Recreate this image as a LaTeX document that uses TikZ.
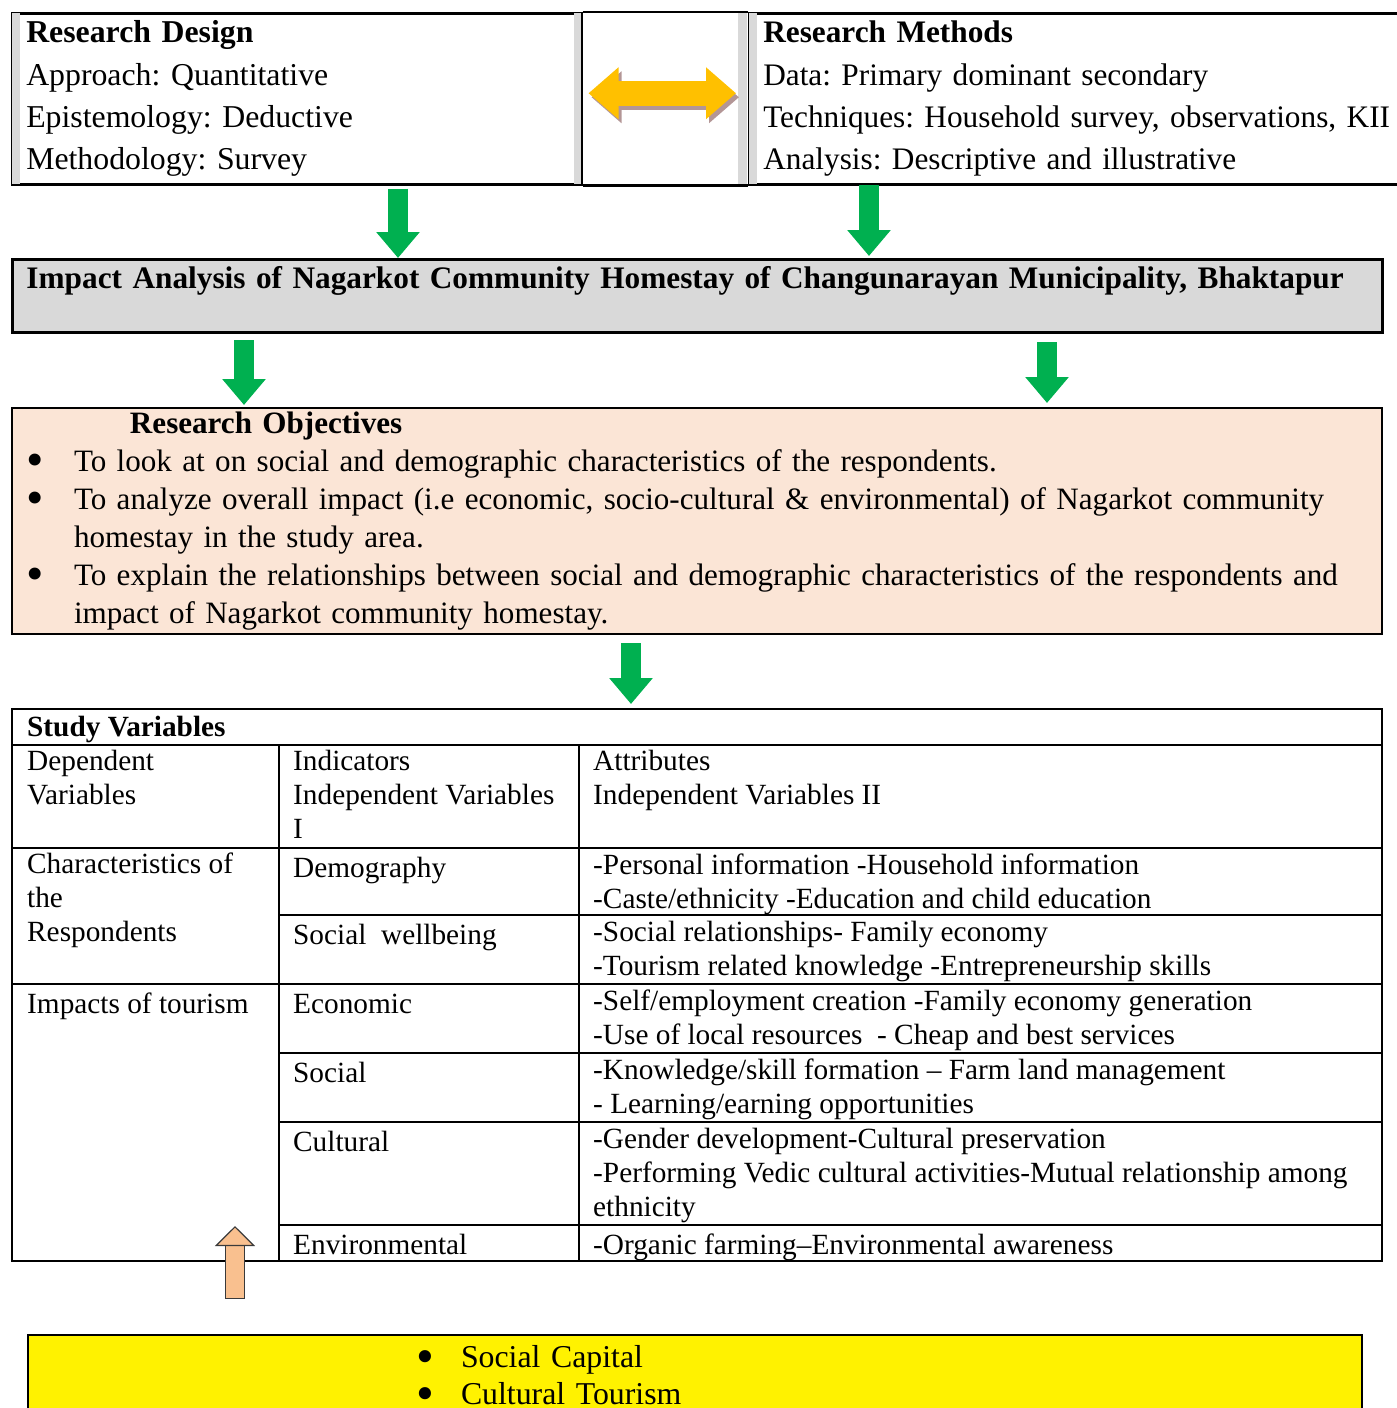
\documentclass[tikz,border=0pt]{standalone}
\usepackage{fontspec}
\setmainfont{Liberation Serif}
\usetikzlibrary{arrows.meta, positioning}
\frenchspacing

\definecolor{flowgreen}{HTML}{00B050}
\definecolor{gold}{HTML}{FFC000}
\definecolor{shade}{HTML}{B39696}
\definecolor{stripgray}{HTML}{D9D9D9}
\definecolor{titlegray}{HTML}{D9D9D9}
\definecolor{peach}{HTML}{FBE5D6}
\definecolor{liftfill}{HTML}{F9C08F}
\definecolor{liftline}{HTML}{3A3A3A}

\newcommand{\bigfont}{\fontsize{31.8}{42.3}\selectfont}
\newcommand{\methfont}{\fontsize{31.3}{42.3}\selectfont}
\newcommand{\titlefont}{\fontsize{31.3}{40}\selectfont\bfseries}
\newcommand{\objfont}{\fontsize{31.1}{38}\selectfont}
\newcommand{\tabfont}{\fontsize{29.3}{34}\selectfont}
\newcommand{\yelfont}{\fontsize{31.8}{37}\selectfont}
\newcommand{\blt}{\raisebox{-0.17em}{\scalebox{1.6}{•}}}

\begin{document}
\begin{tikzpicture}[x=1pt, y=-1pt,
  panel/.style={draw, line width=2.5pt, anchor=north west, inner xsep=14pt, align=left},
  flow/.style={draw=flowgreen, line width=20pt, -{Triangle[length=26pt, width=42pt]}},
  both/.style={line width=25pt, {Triangle[length=30pt, width=50pt]}-{Triangle[length=30pt, width=50pt]}},
  lift/.style={draw=liftline, line width=1.2pt, double=liftfill, double distance=18pt, line cap=rect,
    -{Triangle[length=20pt, width=40pt, fill=liftfill, line width=1.2pt]}},
  rule/.style={line width=2pt},
  cell/.style={anchor=north west, inner sep=0pt, align=left, font=\tabfont, execute at begin node=\strut}]
  \useasboundingbox (0,0) rectangle (1397,1408);
  \clip (0,0) rectangle (1397,1408);

  % top row: design <-> methods
  \node[panel, minimum width=569pt, minimum height=171pt, text width=541pt, font=\bigfont] (design) at (11,12)
    {\textbf{Research Design}\\Approach: Quantitative\\Epistemology: Deductive\\Methodology: Survey};
  \node[panel, minimum height=171pt, text width=720pt, font=\methfont] (methods) at (748,12)
    {\textbf{Research Methods}\\Data: Primary dominant secondary\\Techniques: Household survey, observations, KII\\Analysis: Descriptive and illustrative};
  \draw[line width=2.5pt] (design.north east) -- (methods.north west);
  \draw[line width=2.5pt] (design.south east) -- (methods.south west);
  \fill[stripgray] ([shift={(1.25pt,-1.25pt)}]design.north west) rectangle ([shift={(9pt,1.25pt)}]design.south west);
  \fill[stripgray] ([shift={(-9pt,-1.25pt)}]design.north east) rectangle ([shift={(-1.25pt,1.25pt)}]design.south east);
  \fill[stripgray] ([shift={(-10pt,-1.25pt)}]methods.north west) rectangle ([shift={(-1.25pt,1.25pt)}]methods.south west);
  \fill[stripgray] ([shift={(1.25pt,-1.25pt)}]methods.north west) rectangle ([shift={(9pt,1.25pt)}]methods.south west);
  \draw[both, draw=shade] ([shift={(9pt,1.5pt)}]design.east) -- ([shift={(-9pt,1.5pt)}]methods.west);
  \draw[both, draw=gold] ([shift={(6pt,5.5pt)}]design.east) -- ([shift={(-12pt,5.5pt)}]methods.west);

  % study title
  \node[panel, line width=3pt, fill=titlegray, text width=1342pt, font=\titlefont, text height=25pt, text depth=39.5pt,
    inner ysep=4.25pt] (title) at (11,258)
    {\mbox{Impact Analysis of Nagarkot Community Homestay of Changunarayan Municipality, Bhaktapur}};

  % objectives
  \node[panel, fill=peach, line width=2pt, text width=1342pt, inner ysep=4pt, font=\objfont] (objectives) at (11,407)
    {\hspace*{104pt}\textbf{Research Objectives}\\
     \mbox{\makebox[48pt][l]{\blt}To look at on social and demographic characteristics of the respondents.}\\
     \mbox{\makebox[48pt][l]{\blt}To analyze overall impact (i.e economic, socio-cultural \& environmental) of Nagarkot community}\\
     \hspace*{48pt}homestay in the study area.\\
     \mbox{\makebox[48pt][l]{\blt}To explain the relationships between social and demographic characteristics of the respondents and}\\
     \hspace*{48pt}impact of Nagarkot community homestay.};

  % study variables table
  \node[draw, line width=2pt, anchor=north west, minimum width=1370pt, minimum height=552pt, inner sep=0pt] (vars) at (11,708) {};
  \foreach \y in {745,848,984}
    \draw[rule] (11,\y) -- (1381,\y);
  \foreach \y in {915,1053,1122,1225}
    \draw[rule] (279,\y) -- (1381,\y);
  \foreach \x in {279,579}
    \draw[rule] (\x,745) -- (\x,1260);

  \node[cell, font=\tabfont\bfseries] (head) at (27,712) {Study Variables};
  \node[cell] (dep) at (27,750) {Dependent\\Variables};
  \node[cell] (ind) at (293,750) {Indicators\\Independent Variables\\I};
  \node[cell] (att) at (593,750) {Attributes\\Independent Variables II};
  \node[cell] (chars) at (27,853) {Characteristics of\\the\\Respondents};
  \node[cell] (demo) at (293,853) {Demography};
  \node[cell] (demoatt) at (593,854) {-Personal information -Household information\\-Caste/ethnicity -Education and child education};
  \node[cell] (well) at (293,920) {Social\ \ wellbeing};
  \node[cell] (wellatt) at (593,921) {-Social relationships- Family economy\\-Tourism related knowledge -Entrepreneurship skills};
  \node[cell] (impacts) at (27,989) {Impacts of tourism};
  \node[cell] (econ) at (293,989) {Economic};
  \node[cell] (econatt) at (593,990) {-Self/employment creation -Family economy generation\\-Use of local resources\ \ - Cheap and best services};
  \node[cell] (soc) at (293,1058) {Social};
  \node[cell] (socatt) at (593,1059) {-Knowledge/skill formation -- Farm land management\\- Learning/earning opportunities};
  \node[cell] (cult) at (293,1127) {Cultural};
  \node[cell] (cultatt) at (593,1128) {-Gender development-Cultural preservation\\-Performing Vedic cultural activities-Mutual relationship among\\ethnicity};
  \node[cell] (env) at (293,1230) {Environmental};
  \node[cell] (envatt) at (593,1230) {-Organic farming--Environmental awareness};

  % capital box
  \node[panel, fill=yellow, line width=2pt, text width=1334pt, inner xsep=0pt, inner ysep=7pt, font=\yelfont,
    execute at begin node=\strut] (capital) at (27,1334)
    {\hspace*{388pt}\makebox[45pt][l]{\blt}Social Capital\\\hspace*{388pt}\makebox[45pt][l]{\blt}Cultural Tourism};

  % connectors
  \coordinate (g1) at (398,0);
  \coordinate (g2) at (869,0);
  \coordinate (g3) at (244,0);
  \coordinate (g4) at (1047,0);
  \coordinate (g5) at (631,0);
  \coordinate (u1) at (235,1226);
  \draw[flow, shorten <=3pt] (design.south -| g1) -- (title.north -| g1);
  \draw[flow, shorten <=-1pt, shorten >=2pt] (methods.south -| g2) -- (title.north -| g2);
  \draw[flow, shorten <=6pt, shorten >=2pt] (title.south -| g3) -- (objectives.north -| g3);
  \draw[flow, shorten <=8pt, shorten >=4pt] (title.south -| g4) -- (objectives.north -| g4);
  \draw[flow, shorten <=8pt, shorten >=4pt] (objectives.south -| g5) -- (vars.north -| g5);
  \draw[lift, shorten <=45pt] (capital.north -| u1) -- (u1);
\end{tikzpicture}
\end{document}
